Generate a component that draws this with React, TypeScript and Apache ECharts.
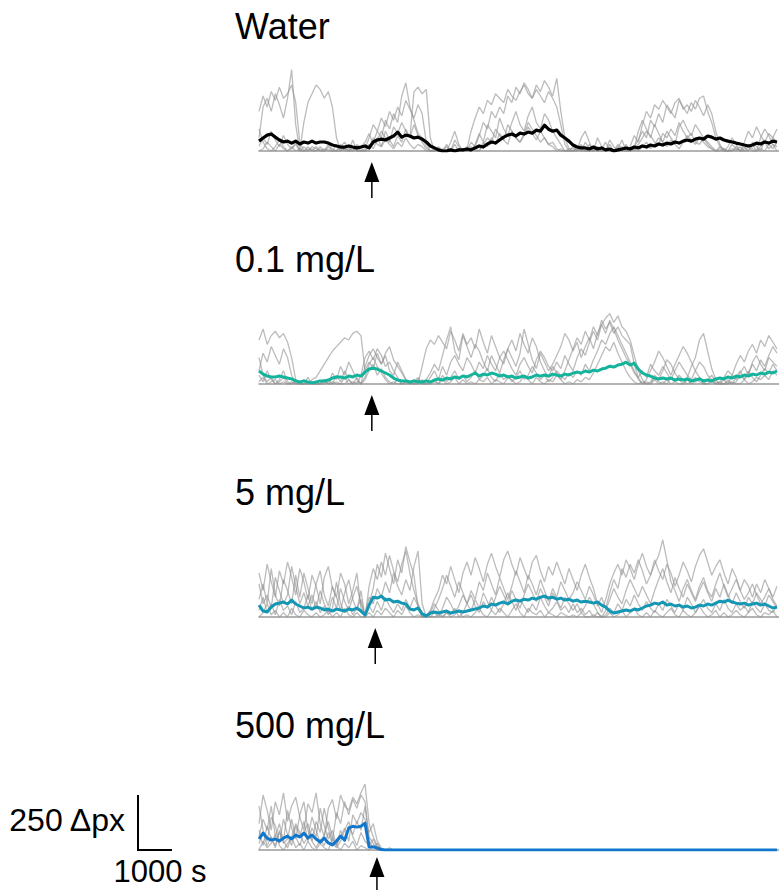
import React, { useEffect, useRef } from "react";
import * as echarts from "echarts";

// ---------- data (Δpx activity, one sample every 120 s) ----------
const STEP_S = 120;
const X_MAX_S = 15300;
const Y_MAX = 400;
const SCALE_X_S = 1000;
const SCALE_Y = 250;
const SCALE_X_LABEL = "1000 s";
const SCALE_Y_LABEL = "250 \u0394px";

const PANEL_TITLES = ["Water", "0.1 mg/L", "5 mg/L", "500 mg/L"];
const MEAN_COLORS = ["#000000", "#14b39c", "#1497b5", "#1177cc"];
const ARROW_TIMES = [3320, 3320, 3420, 3470];

// Water
const waterMean = [
  45, 59, 72, 77, 63, 50, 41, 45, 36, 45, 32, 41, 36, 45, 36, 41, 41, 36, 27, 23,
  18, 18, 23, 18, 14, 18, 23, 14, 41, 50, 54, 50, 59, 68, 86, 63, 72, 68, 59, 63,
  54, 41, 23, 14, 5, 0, 0, 5, 0, 5, 5, 9, 5, 14, 23, 18, 32, 41, 36, 50,
  63, 72, 77, 68, 81, 77, 86, 81, 95, 90, 117, 99, 90, 95, 72, 59, 45, 27, 18, 14,
  14, 9, 18, 9, 14, 5, 9, 0, 5, 9, 14, 9, 18, 14, 23, 18, 27, 23, 32, 27,
  36, 32, 41, 36, 45, 50, 45, 54, 59, 54, 68, 63, 54, 59, 50, 45, 41, 36, 32, 27,
  23, 27, 36, 32, 41, 36, 45, 41,
];
const waterTrace1 = [
  180, 250, 200, 270, 230, 290, 240, 260, 300, 220, 40, 0, 10, 0, 20,
  0, 10, 0, 0, 30, 0, 10, 0, 20, 0, 0, 10,
  60, 120, 90, 150, 110, 180, 140, 200, 160, 230, 190, 150, 210, 170, 40, 0,
  0, 10, 0, 30, 0, 50, 20, 0, 10,
  90, 150, 200, 170, 230, 210, 260, 240, 220, 280, 250, 230, 270, 300, 260, 240, 280, 250, 220, 270, 240, 200, 120, 30, 0,
  0, 20, 0, 40, 10, 0, 60, 20, 0, 30, 0, 10, 50, 0, 20, 70, 40,
  120, 180, 150, 210, 190, 230, 200, 170, 220, 240, 190, 210, 180, 230, 200, 160, 210, 170, 90, 30,
  0, 20, 60, 30, 0, 40, 90, 60, 110, 70, 40, 80, 60, 100,
];
const waterTrace2 = [
  60, 200, 240, 180, 260, 210, 150, 240, 370, 120, 0, 0, 20, 0, 0,
  10, 0, 30, 0, 0, 20, 40, 10, 0, 30, 10, 0,
  20, 40, 90, 60, 140, 100, 170, 130, 250, 310, 200, 140, 80, 60, 20, 0,
  10, 0, 0, 20, 0, 0, 10, 0, 0,
  40, 20, 70, 130, 100, 180, 150, 200, 170, 250, 220, 290, 260, 310, 280, 240, 300, 270, 320, 290, 250, 330, 180, 60, 10,
  10, 0, 30, 0, 0, 20, 0, 10, 40, 0, 0, 30, 10, 0, 0, 20, 50,
  90, 60, 140, 110, 170, 130, 210, 180, 150, 230, 200, 170, 220, 190, 240, 250, 180, 130, 60, 20,
  10, 0, 30, 10, 0, 20, 0, 40, 20, 0, 50, 30, 10, 40,
];
const waterTrace3 = [
  20, 60, 30, 90, 50, 20, 70, 30, 10, 40, 0, 130, 220, 260, 300,
  280, 240, 270, 200, 60, 0, 20, 0, 50, 0, 20, 40,
  80, 30, 60, 20, 90, 50, 20, 70, 40, 100, 60, 270, 290, 260, 280, 60,
  0, 20, 0, 0, 40, 90, 30, 0, 20,
  0, 30, 80, 40, 120, 90, 60, 150, 100, 70, 130, 180, 120, 90, 160, 200, 130, 100, 170, 140, 90, 60, 30, 0, 0,
  20, 0, 60, 90, 40, 0, 20, 0, 0, 50, 20, 0, 0, 30, 0, 10, 90,
  140, 100, 60, 120, 80, 40, 90, 60, 30, 110, 140, 100, 70, 120, 90, 60, 30, 10, 0, 20,
  0, 0, 10, 0, 20, 0, 0, 30, 0, 60, 100, 70, 30, 0,
];
const waterTrace4 = [
  0, 10, 40, 20, 0, 30, 10, 0, 20, 0, 10, 0, 0, 20, 10,
  0, 0, 20, 10, 0, 0, 10, 0, 0, 20, 0, 0,
  30, 10, 50, 90, 60, 40, 110, 80, 130, 90, 60, 120, 70, 40, 10, 0,
  0, 0, 10, 0, 0, 30, 0, 10, 0,
  20, 0, 0, 40, 20, 60, 30, 80, 50, 30, 90, 60, 40, 70, 110, 80, 50, 90, 60, 30, 40, 10, 0, 0, 10,
  0, 0, 10, 0, 0, 0, 20, 0, 10, 0, 0, 0, 20, 0, 0, 10, 0,
  20, 40, 10, 30, 60, 40, 20, 50, 30, 10, 40, 70, 50, 30, 60, 40, 20, 10, 0, 0,
  10, 0, 0, 20, 0, 10, 30, 10, 0, 20, 40, 10, 30, 20,
];
const waterTrace5 = [
  100, 40, 10, 0, 20, 50, 20, 0, 10, 30, 0, 20, 0, 10, 0,
  20, 0, 10, 0, 0, 30, 0, 0, 10, 0, 0, 0,
  0, 60, 30, 20, 50, 30, 10, 40, 20, 60, 30, 10, 30, 20, 0, 0,
  0, 10, 0, 0, 0, 0, 10, 0, 0,
  0, 10, 0, 30, 60, 40, 100, 70, 50, 120, 90, 60, 40, 80, 130, 100, 70, 40, 60, 30, 20, 0, 10, 0, 0,
  0, 10, 0, 0, 30, 0, 0, 0, 10, 0, 0, 20, 0, 0, 10, 0, 30,
  60, 90, 70, 40, 30, 80, 60, 100, 70, 130, 90, 60, 80, 40, 30, 60, 40, 20, 0, 10,
  0, 0, 0, 10, 0, 0, 20, 0, 0, 10, 0, 30, 60, 40,
];

// 0.1 mg/L
const lowMean = [
  59, 45, 36, 32, 32, 36, 32, 27, 23, 14, 9, 14, 9, 5, 9, 14, 14, 18, 27, 32,
  32, 27, 36, 32, 41, 36, 54, 68, 72, 68, 59, 50, 41, 27, 18, 14, 14, 9, 14, 9,
  9, 14, 9, 18, 23, 18, 27, 23, 32, 27, 36, 32, 41, 50, 36, 45, 41, 50, 45, 36,
  41, 32, 36, 27, 32, 36, 27, 32, 41, 36, 41, 36, 45, 41, 36, 45, 41, 50, 54, 50,
  59, 54, 63, 59, 68, 72, 81, 77, 86, 90, 99, 86, 95, 68, 50, 41, 36, 27, 23, 27,
  23, 27, 18, 23, 18, 23, 14, 18, 23, 14, 18, 14, 23, 27, 23, 32, 27, 36, 32, 41,
  36, 45, 41, 50, 45, 54, 50, 59,
];
const lowTrace1 = [
  200, 250, 180, 220, 240, 210, 230, 190, 120, 20, 0, 0, 10, 0, 0,
  0, 20, 0, 10, 0, 0, 30, 0, 10, 0, 40, 120,
  150, 110, 160, 130, 80, 100, 60, 30, 0, 10, 0, 20, 0, 80, 160, 200,
  180, 220, 190, 160, 240, 200, 150, 230, 180,
  210, 160, 250, 190, 140, 220, 170, 120, 90, 160, 200, 150, 230, 180, 140, 210, 170, 100, 60, 30, 80, 50, 20, 60, 110,
  160, 210, 180, 240, 200, 260, 220, 290, 250, 280, 230, 260, 220, 200, 180, 90, 30,
  0, 20, 60, 100, 150, 120, 80, 40, 90, 130, 170, 140, 100, 60, 30, 0, 20, 40, 10, 0,
  20, 0, 40, 90, 130, 100, 150, 180, 140, 200, 170, 220, 190, 160,
];
const lowTrace2 = [
  60, 140, 100, 170, 130, 90, 160, 120, 40, 0, 10, 0, 0, 20, 30,
  60, 90, 120, 150, 170, 190, 210, 200, 230, 240, 220, 60,
  100, 70, 140, 90, 130, 60, 40, 100, 60, 20, 0, 10, 30, 0, 20, 50,
  90, 60, 130, 200, 260, 150, 110, 220, 170,
  120, 180, 150, 100, 60, 130, 90, 50, 110, 160, 120, 80, 140, 250, 180, 110, 70, 140, 100, 60, 90, 130, 170, 230, 200,
  150, 190, 120, 170, 210, 160, 230, 270, 300, 320, 280, 310, 260, 240, 200, 130, 60,
  20, 0, 10, 40, 20, 60, 110, 90, 50, 20, 0, 30, 80, 120, 200, 230, 150, 70, 20, 0,
  0, 10, 0, 30, 60, 20, 50, 90, 60, 110, 80, 130, 170, 140,
];
const lowTrace3 = [
  120, 40, 10, 30, 0, 20, 60, 10, 0, 20, 0, 0, 30, 0, 0,
  0, 10, 0, 50, 20, 80, 40, 100, 60, 20, 0, 80,
  130, 160, 120, 90, 140, 170, 110, 80, 50, 20, 10, 0, 20, 10, 0, 30,
  60, 20, 80, 40, 100, 130, 90, 60, 120,
  90, 50, 100, 70, 130, 90, 60, 120, 150, 110, 70, 40, 90, 120, 80, 50, 110, 150, 120, 80, 60, 100, 70, 130, 90,
  60, 120, 160, 130, 190, 240, 200, 270, 230, 290, 250, 200, 160, 120, 90, 50, 30,
  60, 30, 90, 60, 40, 80, 50, 20, 60, 100, 70, 40, 20, 60, 100, 80, 40, 20, 0, 10,
  30, 60, 40, 20, 50, 80, 40, 100, 130, 90, 60, 120, 100, 80,
];
const lowTrace4 = [
  40, 10, 60, 20, 0, 10, 30, 0, 10, 0, 0, 20, 0, 0, 10,
  0, 0, 20, 0, 40, 10, 60, 20, 0, 30, 0, 20,
  60, 90, 40, 70, 30, 10, 0, 20, 0, 0, 10, 0, 0, 20, 0, 10,
  20, 0, 40, 10, 30, 60, 20, 40, 10,
  30, 60, 20, 40, 70, 30, 10, 50, 20, 40, 10, 30, 60, 20, 40, 80, 50, 20, 40, 10, 30, 60, 40, 20, 50,
  30, 60, 40, 90, 60, 110, 150, 200, 180, 230, 260, 220, 180, 140, 100, 60, 20,
  0, 10, 0, 30, 10, 0, 20, 0, 10, 40, 20, 0, 10, 30, 10, 0, 0, 20, 0, 10,
  0, 20, 0, 10, 40, 20, 60, 30, 10, 40, 70, 50, 90, 60,
];
const lowTrace5 = [
  10, 30, 0, 10, 20, 0, 10, 0, 0, 10, 0, 0, 0, 10, 0,
  0, 20, 0, 0, 10, 0, 0, 20, 0, 10, 0, 30,
  90, 120, 80, 50, 20, 0, 10, 0, 0, 10, 0, 0, 20, 0, 0, 0,
  10, 0, 20, 0, 10, 30, 0, 20, 0,
  10, 0, 20, 10, 30, 0, 20, 10, 0, 30, 20, 0, 10, 40, 20, 0, 30, 10, 0, 20, 10, 40, 20, 0, 10,
  0, 20, 10, 30, 20, 50, 90, 130, 170, 150, 190, 140, 100, 60, 30, 10, 0,
  10, 0, 0, 20, 0, 10, 0, 30, 10, 0, 0, 20, 0, 10, 30, 0, 0, 10, 0, 0,
  0, 0, 10, 0, 0, 20, 0, 10, 30, 20, 40, 20, 60, 40,
];

// 5 mg/L
const midMean = [
  54, 27, 23, 45, 59, 63, 68, 59, 77, 59, 50, 41, 45, 36, 45, 41, 32, 36, 27, 36,
  32, 27, 36, 32, 41, 27, 9, 54, 90, 86, 95, 77, 81, 68, 72, 63, 59, 36, 32, 41,
  14, 5, 18, 23, 18, 23, 27, 18, 23, 27, 23, 27, 32, 36, 41, 50, 45, 59, 54, 63,
  68, 59, 72, 77, 72, 81, 77, 86, 81, 90, 95, 86, 90, 81, 86, 77, 81, 72, 77, 68,
  72, 68, 63, 68, 54, 45, 27, 18, 23, 27, 32, 27, 36, 32, 41, 50, 54, 63, 59, 68,
  54, 59, 50, 54, 45, 50, 41, 45, 54, 50, 59, 54, 63, 72, 68, 77, 68, 63, 59, 63,
  54, 59, 63, 54, 59, 50, 41, 45,
];
const midTrace1 = [
  200, 120, 240, 160, 90, 210, 150, 250, 180, 100, 220, 160, 80, 190, 140,
  60, 180, 230, 130, 90, 200, 150, 60, 120, 200, 40, 0,
  140, 220, 170, 250, 190, 280, 210, 160, 240, 300, 200, 120, 60, 20, 0, 30,
  80, 120, 190, 150, 230, 170, 110, 200, 250,
  190, 270, 220, 160, 240, 290, 230, 180, 260, 300, 240, 190, 270, 220, 170, 250, 280, 210, 160, 230, 190, 250, 200, 150, 220,
  170, 120, 190, 240, 180, 130, 60, 20, 80, 150, 200, 240, 190, 260, 220, 170, 240,
  290, 230, 190, 260, 210, 170, 240, 200, 140, 190, 250, 210, 160, 230, 280, 310, 250, 190, 230, 260,
  200, 150, 220, 180, 120, 170, 140, 90, 150, 110, 170, 130, 90, 140,
];
const midTrace2 = [
  80, 150, 60, 220, 100, 50, 170, 120, 60, 190, 90, 200, 130, 60, 150,
  210, 100, 50, 140, 90, 30, 110, 170, 80, 30, 120, 0,
  60, 130, 240, 180, 290, 220, 150, 260, 200, 320, 250, 190, 40, 0, 10, 0,
  20, 0, 40, 90, 60, 20, 50, 100, 60,
  120, 80, 160, 120, 200, 150, 100, 180, 130, 80, 140, 210, 160, 110, 190, 150, 100, 170, 120, 70, 130, 90, 160, 120, 80,
  110, 160, 120, 80, 140, 100, 50, 90, 40, 110, 170, 130, 220, 180, 240, 200, 260,
  210, 150, 190, 240, 280, 350, 260, 160, 120, 70, 130, 170, 120, 80, 140, 180, 120, 90, 150, 200,
  140, 90, 130, 170, 120, 80, 110, 150, 100, 60, 90, 130, 80, 50,
];
const midTrace3 = [
  150, 60, 100, 40, 180, 120, 60, 100, 230, 140, 60, 110, 50, 100, 40,
  120, 60, 20, 90, 40, 130, 70, 30, 90, 140, 60, 10,
  90, 60, 130, 90, 160, 110, 200, 140, 100, 170, 120, 230, 300, 60, 0, 20,
  60, 30, 0, 20, 10, 40, 0, 20, 60,
  30, 80, 40, 110, 70, 30, 90, 140, 100, 60, 120, 80, 40, 100, 150, 110, 70, 130, 90, 50, 110, 80, 40, 90, 60,
  30, 60, 20, 50, 90, 60, 20, 0, 30, 80, 130, 90, 60, 120, 170, 130, 90,
  140, 100, 60, 120, 170, 220, 160, 110, 180, 130, 90, 150, 110, 70, 120, 160, 110, 70, 130, 90,
  150, 100, 60, 110, 70, 40, 90, 60, 110, 80, 50, 100, 70, 40,
];
const midTrace4 = [
  30, 90, 20, 60, 10, 80, 30, 50, 10, 70, 20, 40, 100, 30, 70,
  20, 50, 10, 40, 160, 60, 20, 50, 10, 40, 80, 0,
  50, 20, 70, 30, 90, 50, 20, 60, 30, 80, 40, 90, 50, 0, 0, 10,
  40, 80, 130, 190, 140, 90, 160, 110, 60,
  100, 50, 20, 70, 40, 90, 50, 20, 60, 110, 70, 30, 80, 50, 20, 60, 30, 90, 50, 20, 40, 70, 30, 50, 20,
  60, 20, 40, 10, 30, 0, 20, 0, 10, 40, 20, 60, 30, 80, 50, 100, 60,
  30, 70, 40, 20, 60, 30, 80, 50, 20, 60, 30, 90, 60, 20, 50, 80, 40, 20, 60, 30,
  80, 40, 20, 60, 30, 50, 20, 70, 40, 20, 60, 30, 20, 50,
];
const midTrace5 = [
  0, 20, 60, 10, 30, 0, 20, 0, 40, 10, 0, 30, 10, 0, 20,
  0, 10, 30, 0, 20, 0, 40, 10, 0, 20, 0, 0,
  20, 0, 30, 10, 40, 20, 0, 30, 10, 50, 20, 0, 10, 0, 0, 0,
  0, 10, 0, 20, 0, 10, 30, 0, 10,
  0, 20, 40, 10, 0, 30, 10, 40, 20, 0, 30, 60, 20, 0, 40, 20, 10, 30, 0, 20, 10, 0, 20, 10, 0,
  10, 0, 20, 0, 0, 10, 0, 0, 0, 20, 0, 10, 30, 0, 20, 40, 10,
  0, 20, 0, 30, 10, 0, 20, 40, 10, 0, 30, 10, 0, 20, 50, 20, 0, 10, 30, 0,
  20, 0, 10, 30, 10, 0, 20, 40, 10, 0, 20, 10, 30, 0,
];

// 500 mg/L
const highMean = [
  50, 77, 54, 45, 50, 41, 54, 63, 50, 68, 59, 77, 54, 68, 50, 36, 54, 32, 23, 41,
  63, 45, 99, 108, 104, 108, 122, 14, 14, 9, 2, 0, 0, 0, 0, 0, 0, 0, 0, 0,
  0, 0, 0, 0, 0, 0, 0, 0, 0, 0, 0, 0, 0, 0, 0, 0, 0, 0, 0, 0,
  0, 0, 0, 0, 0, 0, 0, 0, 0, 0, 0, 0, 0, 0, 0, 0, 0, 0, 0, 0,
  0, 0, 0, 0, 0, 0, 0, 0, 0, 0, 0, 0, 0, 0, 0, 0, 0, 0, 0, 0,
  0, 0, 0, 0, 0, 0, 0, 0, 0, 0, 0, 0, 0, 0, 0, 0, 0, 0, 0, 0,
  0, 0, 0, 0, 0, 0, 0, 0,
];
const highTrace1 = [120, 250, 180, 90, 220, 160, 260, 130, 200, 240, 150, 90, 210, 170, 260, 120, 60, 190, 230, 140, 250, 200, 180, 240, 210, 260, 300, 120, 60, 20, 0, 0, 0, 0];
const highTrace2 = [60, 140, 90, 200, 60, 120, 40, 180, 100, 50, 160, 220, 90, 40, 130, 80, 190, 100, 40, 170, 120, 220, 160, 230, 190, 250, 220, 40, 10, 30, 0, 0, 0, 0];
const highTrace3 = [200, 90, 40, 150, 110, 30, 140, 70, 20, 110, 60, 130, 40, 100, 60, 190, 110, 50, 90, 20, 60, 100, 40, 160, 120, 170, 140, 80, 120, 40, 10, 0, 0, 0];
const highTrace4 = [30, 80, 20, 60, 10, 90, 30, 50, 140, 60, 20, 80, 120, 40, 10, 50, 20, 80, 30, 10, 40, 90, 130, 60, 20, 80, 40, 20, 50, 10, 0, 0, 10, 0];
const highTrace5 = [0, 40, 10, 30, 70, 20, 0, 30, 60, 10, 30, 0, 40, 10, 0, 30, 10, 0, 50, 20, 0, 30, 10, 40, 0, 20, 10, 0, 20, 0, 0, 0, 0, 0];
const highTrace6 = [90, 20, 110, 50, 20, 80, 40, 10, 60, 120, 80, 30, 60, 150, 90, 30, 70, 130, 60, 20, 90, 40, 110, 70, 130, 90, 200, 60, 30, 0, 0, 0, 0, 0];

const PANEL_MEANS = [waterMean, lowMean, midMean, highMean];
const PANEL_TRACES = [
  [waterTrace1, waterTrace2, waterTrace3, waterTrace4, waterTrace5],
  [lowTrace1, lowTrace2, lowTrace3, lowTrace4, lowTrace5],
  [midTrace1, midTrace2, midTrace3, midTrace4, midTrace5],
  [highTrace1, highTrace2, highTrace3, highTrace4, highTrace5, highTrace6],
];

// ---------- layout ----------
const W = 779;
const H = 890;
const PLOT_LEFT = 259;
const PANEL_TOP0 = 63;
const PANEL_STEP = 233;
const PANEL_H = 88;
const FONT = '"Liberation Sans", Arial, Helvetica, sans-serif';

const toPairs = (vals: number[]) => vals.map((v, i) => [i * STEP_S, v]);

export default function App() {
  const ref = useRef<HTMLDivElement>(null);

  useEffect(() => {
    document.body.style.margin = "0";
    if (!ref.current) return;
    const chart = echarts.init(ref.current, undefined, { renderer: "svg" });

    const grids = PANEL_TITLES.map((_, k) => ({
      left: PLOT_LEFT,
      right: 0,
      top: PANEL_TOP0 + k * PANEL_STEP,
      height: PANEL_H,
      containLabel: false,
    }));
    const xAxes = PANEL_TITLES.map((_, k) => ({
      type: "value",
      gridIndex: k,
      min: 0,
      max: X_MAX_S,
      axisLine: { show: true, onZero: true, lineStyle: { color: "#9a9a9a", width: 1.5 } },
      axisTick: { show: false },
      axisLabel: { show: false },
      splitLine: { show: false },
    }));
    const yAxes = PANEL_TITLES.map((_, k) => ({
      type: "value",
      gridIndex: k,
      min: 0,
      max: Y_MAX,
      show: false,
      splitLine: { show: false },
    }));

    const series: any[] = [];
    PANEL_TRACES.forEach((traces, k) => {
      traces.forEach((tr) => {
        series.push({
          type: "line",
          xAxisIndex: k,
          yAxisIndex: k,
          data: toPairs(tr),
          showSymbol: false,
          symbol: "none",
          silent: true,
          z: 2,
          lineStyle: { color: "#8f8f8f", opacity: 0.6, width: 1.3 },
        });
      });
      series.push({
        type: "line",
        xAxisIndex: k,
        yAxisIndex: k,
        data: toPairs(PANEL_MEANS[k]),
        showSymbol: false,
        symbol: "none",
        silent: true,
        z: 4,
        lineStyle: { color: MEAN_COLORS[k], width: k === 0 ? 3.2 : 3, join: "round" },
      });
    });

    chart.setOption({
      animation: false,
      backgroundColor: "#ffffff",
      grid: grids,
      xAxis: xAxes,
      yAxis: yAxes,
      series,
    });

    const graphics: any[] = [];
    const tipGap = [11, 11, 11, 7];
    PANEL_TITLES.forEach((title, k) => {
      const base = chart.convertToPixel({ gridIndex: k }, [0, 0]) as number[];
      graphics.push({
        type: "text",
        x: 235,
        y: base[1] - 125,
        style: {
          text: title,
          fontSize: 36,
          fontFamily: FONT,
          fill: "#000",
          align: "left",
          verticalAlign: "middle",
        },
      });
      const a = chart.convertToPixel({ gridIndex: k }, [ARROW_TIMES[k], 0]) as number[];
      const ax = a[0];
      const tip = a[1] + tipGap[k];
      graphics.push({
        type: "line",
        shape: { x1: ax, y1: tip + 18, x2: ax, y2: tip + 36 },
        style: { stroke: "#000", lineWidth: 1.5 },
      });
      graphics.push({
        type: "polygon",
        shape: { points: [[ax, tip], [ax - 7.5, tip + 20], [ax + 7.5, tip + 20]] },
        style: { fill: "#000" },
      });
    });

    const o = chart.convertToPixel({ gridIndex: 3 }, [0, 0]) as number[];
    const u = chart.convertToPixel({ gridIndex: 3 }, [SCALE_X_S, SCALE_Y]) as number[];
    const bw = u[0] - o[0];
    const bh = o[1] - u[1];
    const cx = 138;
    const cy = o[1];
    graphics.push({
      type: "polyline",
      shape: { points: [[cx, cy - bh], [cx, cy], [cx + bw, cy]] },
      style: { stroke: "#000", lineWidth: 2, fill: null },
    });
    graphics.push({
      type: "text",
      x: cx - 13,
      y: cy - bh / 2 - 3,
      style: {
        text: SCALE_Y_LABEL,
        fontSize: 32,
        fontFamily: FONT,
        fill: "#000",
        align: "right",
        verticalAlign: "middle",
      },
    });
    graphics.push({
      type: "text",
      x: cx + bw / 2 + 5,
      y: cy + 21,
      style: {
        text: SCALE_X_LABEL,
        fontSize: 31,
        fontFamily: FONT,
        fill: "#000",
        align: "center",
        verticalAlign: "middle",
      },
    });

    chart.setOption({ graphic: graphics });

    return () => {
      chart.dispose();
    };
  }, []);

  return (
    <div
      ref={ref}
      style={{ position: "fixed", left: 0, top: 0, width: W, height: H, background: "#fff" }}
    />
  );
}
